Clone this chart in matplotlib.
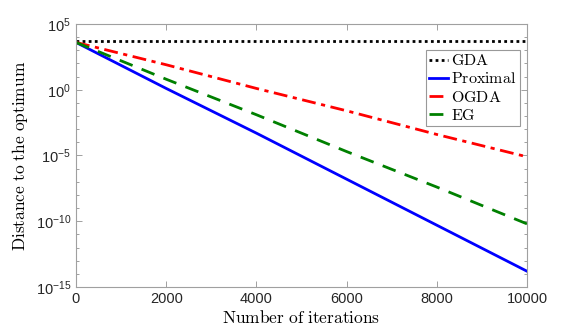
import matplotlib
matplotlib.use("Agg")
import matplotlib.pyplot as plt
import matplotlib.ticker as mticker
import numpy as np

# values (log10 of distance)
iters = [0, 2000, 4000, 6000, 8000, 10000]
gda_exp = [3.7, 3.7, 3.7, 3.7, 3.7, 3.7]
prox_exp = [3.6, 0.1, -3.3, -6.8, -10.3, -13.8]
ogda_exp = [3.6, 1.9, 0.1, -1.6, -3.4, -5.1]
eg_exp = [3.6, 0.8, -1.9, -4.7, -7.4, -10.2]

plt.rcParams['font.family'] = ['Liberation Sans', 'DejaVu Sans']
plt.rcParams['mathtext.fontset'] = 'custom'
plt.rcParams['mathtext.rm'] = 'Liberation Sans'
plt.rcParams['mathtext.it'] = 'Liberation Sans:italic'

fig = plt.figure(figsize=(5.81, 3.31), dpi=100)
ax = fig.add_axes([0.1308, 0.133, 0.7762, 0.7945])

lw = 2.0
ax.semilogy(iters, 10 ** np.array(gda_exp), color='black', linestyle=(0, (1, 1.2)), linewidth=lw, label='GDA')
ax.semilogy(iters, 10 ** np.array(prox_exp), color='blue', linestyle='-', linewidth=lw, label='Proximal')
ax.semilogy(iters, 10 ** np.array(ogda_exp), color='red', linestyle=(0, (5, 2, 1.5, 2)), linewidth=lw, label='OGDA')
ax.semilogy(iters, 10 ** np.array(eg_exp), color='green', linestyle=(0, (5, 3.5)), linewidth=lw, label='EG')

ax.set_xlim(0, 10000)
ax.set_ylim(1e-15, 1e5)
ax.set_xticks([0, 2000, 4000, 6000, 8000, 10000])
ax.set_yticks([1e-15, 1e-10, 1e-5, 1e0, 1e5])
ax.yaxis.set_minor_locator(mticker.FixedLocator([10.0 ** k for k in range(-15, 6)]))
ax.yaxis.set_minor_formatter(mticker.NullFormatter())
ax.yaxis.set_major_formatter(mticker.FuncFormatter(lambda v, p: r'$10^{%d}$' % round(np.log10(v))))

ax.tick_params(which='both', direction='in', top=True, right=True, color='#a0a0a0',
               labelcolor='#262626', labelsize=10.5, width=0.7)
ax.tick_params(which='major', length=4)
ax.tick_params(which='minor', length=2)
for s in ax.spines.values():
    s.set_color('#a0a0a0')
    s.set_linewidth(0.8)

ax.set_xlabel(r'$\mathrm{Number\ of\ iterations}$', fontsize=12.5, math_fontfamily='cm', labelpad=2.5)
ax.set_ylabel(r'$\mathrm{Distance\ to\ the\ optimum}$', fontsize=12.5, math_fontfamily='cm', labelpad=4)

leg = ax.legend(loc='upper right', bbox_to_anchor=(0.9845, 0.901), fancybox=False,
                edgecolor='#808080', handlelength=1.2, handletextpad=0.2,
                borderpad=0.2, borderaxespad=0, labelspacing=0.2, prop={'size': 11.5})
for t in leg.get_texts():
    t.set_text(r'$\mathrm{%s}$' % t.get_text())
    t.set_math_fontfamily('cm')
leg.get_frame().set_linewidth(0.8)

fig.savefig('out.png', dpi=100)
